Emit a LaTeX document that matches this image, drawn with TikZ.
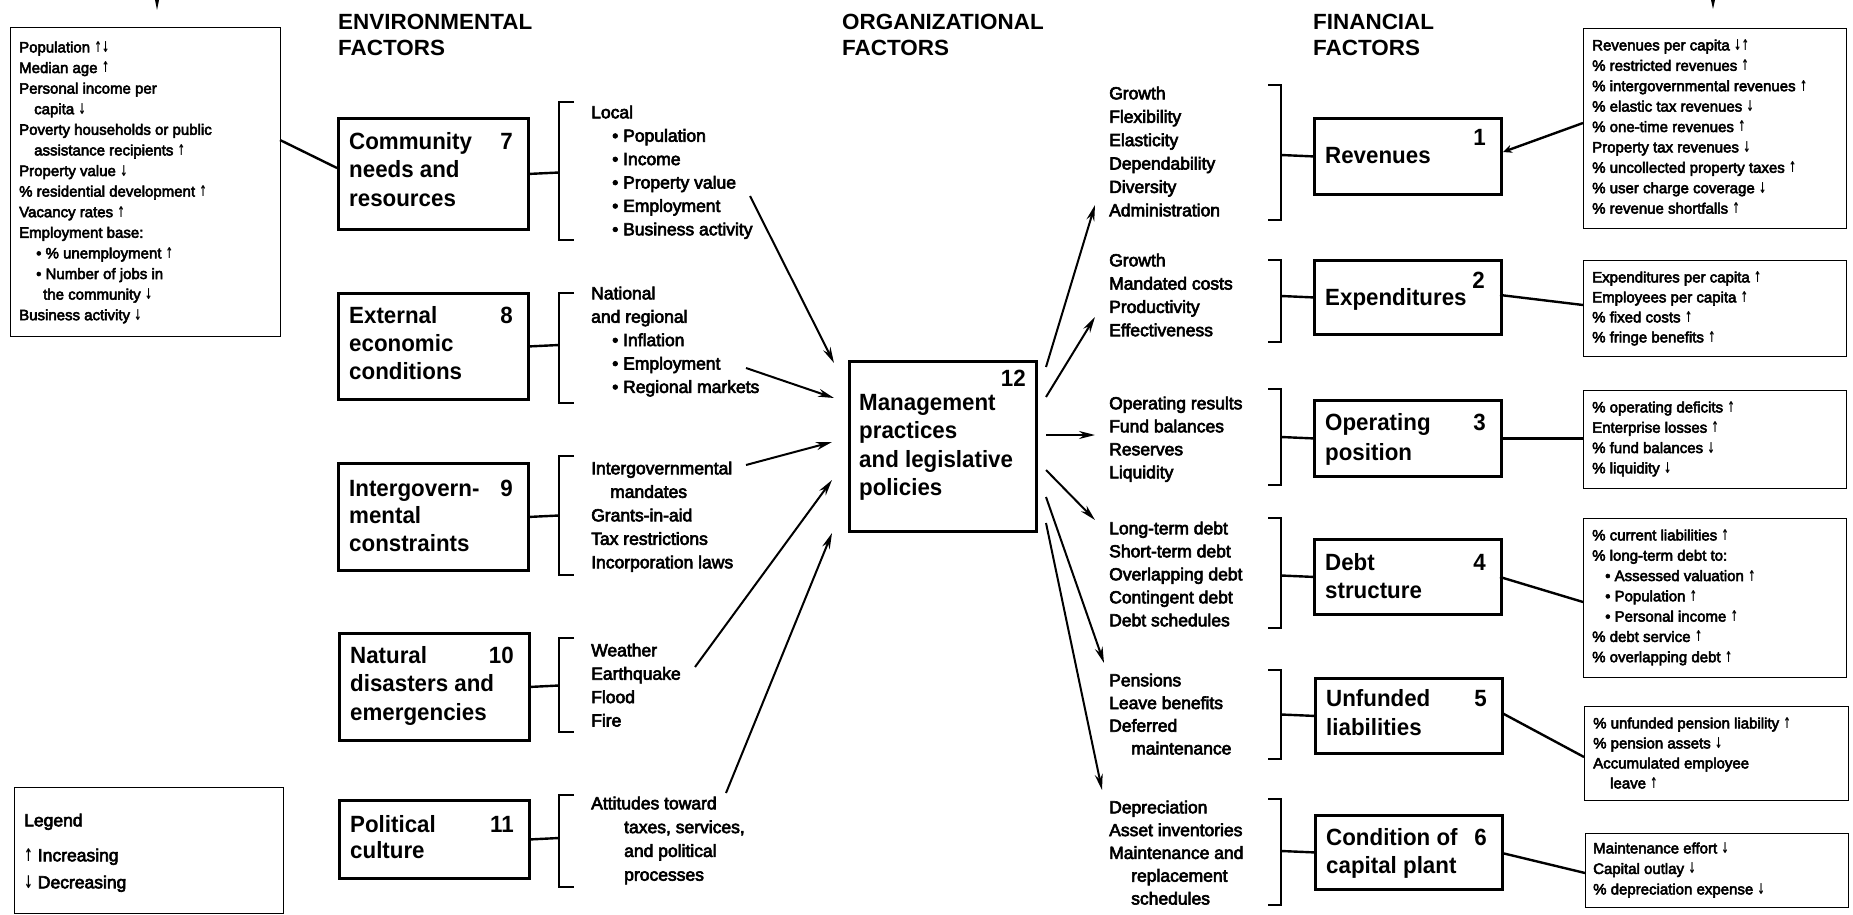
\documentclass[tikz,border=0pt]{standalone}
\usepackage{fontspec}
\setmainfont{Liberation Sans}
\newfontfamily\headfont{Liberation Sans}[FakeStretch=1.02]
\newfontfamily\titlefont{Liberation Sans}[FakeStretch=0.95]
\newfontfamily\listfont{Liberation Sans}[BoldFont={Liberation Sans}, BoldFeatures={FakeBold=3.5}]
\newfontfamily\arrfont{DejaVu Sans}[FakeStretch=0.6]
\usetikzlibrary{arrows.meta}

% trend arrows used in the indicator lists
\newcommand\up{{\arrfont ↑}}
\newcommand\dn{{\arrfont ↓}}
% horizontal indent inside a list line
\newcommand\indt[1]{\hspace*{#1pt}}
% one text node per line: name prefix, style, x, first baseline, line step, lines
\newcommand\rows[6]{%
  \foreach \txt [count=\k from 0] in {#6}{%
    \node[#2, anchor=base west] (#1-\k) at (#3, #4+\k*#5) {\txt};
  }}

\tikzset{
  heavybox/.style={draw, line width=2.8pt, inner sep=0pt, anchor=north west},
  indbox/.style={draw, line width=1.3pt, inner sep=0pt, anchor=north west},
  brk/.style={line width=2pt},
  link/.style={line width=2.4pt},
  flow/.style={line width=2pt, -{Stealth[length=16pt,width=8pt]}},
  ttl/.style={font=\titlefont\bfseries\fontsize{23.5}{28}\selectfont, inner sep=0pt},
  head/.style={font=\headfont\bfseries\fontsize{22}{26}\selectfont, inner sep=0pt},
  mid/.style={font=\listfont\bfseries\fontsize{17.5}{21}\selectfont, inner sep=0pt},
  ind/.style={font=\listfont\bfseries\fontsize{15}{18}\selectfont, inner sep=0pt},
  leg/.style={font=\listfont\bfseries\fontsize{17.5}{21}\selectfont, inner sep=0pt},
}

\begin{document}
\begin{tikzpicture}[x=1pt,y=-1pt]
\useasboundingbox (0,0) rectangle (1853,915);

% ---------- column headings ----------
\rows{hEnv}{head}{338}{29.5}{26}{{ENVIRONMENTAL},{FACTORS}}
\rows{hOrg}{head}{842}{29.5}{26}{{ORGANIZATIONAL},{FACTORS}}
\rows{hFin}{head}{1313}{29.5}{26}{{FINANCIAL},{FACTORS}}

% stubs of connectors running in from above
\fill (155,0) -- (159,0) -- (157,10) -- cycle;
\fill (1711,0) -- (1715,0) -- (1713,9) -- cycle;

% ---------- environmental indicators ----------
\node[indbox, minimum width=270pt, minimum height=309pt] (envInd) at (10,27) {};
\rows{envIndT}{ind}{19}{52.4}{20.6}{{Population \up\dn},{Median age \up},{Personal income per},{\indt{15}capita \dn},{Poverty households or public},{\indt{15}assistance recipients \up},{Property value \dn},{\% residential development \up},{Vacancy rates \up},{Employment base:},{\indt{17}• \% unemployment \up},{\indt{17}• Number of jobs in},{\indt{24}the community \dn},{Business activity \dn}}

% ---------- legend ----------
\node[indbox, minimum width=269pt, minimum height=126pt] (legend) at (14,787) {};
\node[leg, anchor=base west] (legT) at (24,826.3) {Legend};
\node[leg, anchor=base west] (legUp) at (24,861.3) {\up\ Increasing};
\node[leg, anchor=base west] (legDn) at (24,888.3) {\dn\ Decreasing};

% ---------- environmental factor boxes ----------
\node[heavybox, minimum width=190pt, minimum height=111pt] (b7) at (337,117) {};
\rows{b7T}{ttl}{349}{149.4}{28.5}{{Community},{needs and},{resources}}
\node[ttl, anchor=base east] (n7) at (513,149.4) {7};

\node[heavybox, minimum width=190pt, minimum height=106pt] (b8) at (337,292) {};
\rows{b8T}{ttl}{349}{323.4}{28}{{External},{economic},{conditions}}
\node[ttl, anchor=base east] (n8) at (513,323.4) {8};

\node[heavybox, minimum width=190pt, minimum height=107pt] (b9) at (337,462) {};
\rows{b9T}{ttl}{349}{496.4}{27.5}{{Intergovern-},{mental},{constraints}}
\node[ttl, anchor=base east] (n9) at (513,496.4) {9};

\node[heavybox, minimum width=190pt, minimum height=107pt] (b10) at (338,632) {};
\rows{b10T}{ttl}{350}{663.4}{28.5}{{Natural},{disasters and},{emergencies}}
\node[ttl, anchor=base east] (n10) at (514,663.4) {10};

\node[heavybox, minimum width=190pt, minimum height=78pt] (b11) at (338,799) {};
\rows{b11T}{ttl}{350}{832.4}{26}{{Political},{culture}}
\node[ttl, anchor=base east] (n11) at (514,832.4) {11};

\draw[link] (280,140) coordinate (envIndOut) -- (337,168) coordinate (b7In);

% brackets of the environmental factors
\foreach \t/\b in {102/240, 293/403, 456/575, 638/732, 795/887}
  \draw[brk] (574,\t) -- (559,\t) -- (559,\b) -- (574,\b);
\coordinate (k7) at (559,172.5);
\coordinate (k8) at (559,345);
\coordinate (k9) at (559,515.5);
\coordinate (k10) at (559,685.5);
\coordinate (k11) at (559,838);
\foreach \n in {7,8,9,10,11} \draw[link] (b\n.east) -- (k\n);

% ---------- environmental factor details ----------
\rows{dLocal}{mid}{591}{118.3}{23.4}{{Local},{\indt{21}• Population},{\indt{21}• Income},{\indt{21}• Property value},{\indt{21}• Employment},{\indt{21}• Business activity}}
\rows{dNat}{mid}{591}{299.3}{23.4}{{National},{and regional},{\indt{21}• Inflation},{\indt{21}• Employment},{\indt{21}• Regional markets}}
\rows{dGov}{mid}{591}{474.3}{23.5}{{Intergovernmental},{\indt{19}mandates},{Grants-in-aid},{Tax restrictions},{Incorporation laws}}
\rows{dDis}{mid}{591}{656.3}{23.4}{{Weather},{Earthquake},{Flood},{Fire}}
\rows{dPol}{mid}{591}{809.3}{23.8}{{Attitudes toward},{\indt{33}taxes, services,},{\indt{33}and political},{\indt{33}processes}}

% ---------- organizational factor ----------
\node[heavybox, minimum width=187pt, minimum height=170pt] (m12) at (848,360) {};
\rows{m12T}{ttl}{859}{410.4}{28.3}{{Management},{practices},{and legislative},{policies}}
\node[ttl, anchor=base east] (n12) at (1026,386.4) {12};

% arrows into the organizational factor
\coordinate (in1) at (750,196);  \coordinate (in1e) at (834,363);
\coordinate (in2) at (746,368);  \coordinate (in2e) at (834,398);
\coordinate (in3) at (746,465);  \coordinate (in3e) at (832,442);
\coordinate (in4) at (695,667);  \coordinate (in4e) at (832,480);
\coordinate (in5) at (726,793);  \coordinate (in5e) at (832,533);
\foreach \i in {1,...,5} \draw[flow] (in\i) -- (in\i e);

% arrows out of the organizational factor
\coordinate (out1) at (1046,367); \coordinate (out1e) at (1095,205);
\coordinate (out2) at (1046,397); \coordinate (out2e) at (1095,317);
\coordinate (out3) at (1046,435); \coordinate (out3e) at (1095,435);
\coordinate (out4) at (1046,470); \coordinate (out4e) at (1095,520);
\coordinate (out5) at (1046,497); \coordinate (out5e) at (1104,663);
\coordinate (out6) at (1046,523); \coordinate (out6e) at (1102,790);
\foreach \i in {1,...,6} \draw[flow] (out\i) -- (out\i e);

% ---------- financial factor details ----------
\rows{fRev}{mid}{1109}{99.3}{23.4}{{Growth},{Flexibility},{Elasticity},{Dependability},{Diversity},{Administration}}
\rows{fExp}{mid}{1109}{266.3}{23.3}{{Growth},{Mandated costs},{Productivity},{Effectiveness}}
\rows{fOp}{mid}{1109}{409.3}{23}{{Operating results},{Fund balances},{Reserves},{Liquidity}}
\rows{fDebt}{mid}{1109}{534.3}{23}{{Long-term debt},{Short-term debt},{Overlapping debt},{Contingent debt},{Debt schedules}}
\rows{fUnf}{mid}{1109}{686.3}{22.7}{{Pensions},{Leave benefits},{Deferred},{\indt{22}maintenance}}
\rows{fCap}{mid}{1109}{813.3}{22.8}{{Depreciation},{Asset inventories},{Maintenance and},{\indt{22}replacement},{\indt{22}schedules}}

% brackets of the financial factors
\foreach \t/\b in {85/220, 260/342, 389/485, 518/628, 670/759, 799/905}
  \draw[brk] (1268,\t) -- (1281,\t) -- (1281,\b) -- (1268,\b);

% ---------- financial factor boxes ----------
\node[heavybox, minimum width=187pt, minimum height=76pt] (f1) at (1313,117) {};
\node[ttl, anchor=base west] (f1T) at (1325,163.4) {Revenues};
\node[ttl, anchor=base east] (n1) at (1486,146) {1};

\node[heavybox, minimum width=187pt, minimum height=74pt] (f2) at (1313,259) {};
\node[ttl, anchor=base west] (f2T) at (1325,305.4) {Expenditures};
\node[ttl, anchor=base east] (n2) at (1485,288) {2};

\node[heavybox, minimum width=187pt, minimum height=76pt] (f3) at (1313,399) {};
\rows{f3T}{ttl}{1325}{430.4}{30}{{Operating},{position}}
\node[ttl, anchor=base east] (n3) at (1486,430.4) {3};

\node[heavybox, minimum width=187pt, minimum height=75pt] (f4) at (1313,538) {};
\rows{f4T}{ttl}{1325}{570.4}{28}{{Debt},{structure}}
\node[ttl, anchor=base east] (n4) at (1486,570.4) {4};

\node[heavybox, minimum width=187pt, minimum height=75pt] (f5) at (1314,677) {};
\rows{f5T}{ttl}{1326}{706.4}{29}{{Unfunded},{liabilities}}
\node[ttl, anchor=base east] (n5) at (1487,706.4) {5};

\node[heavybox, minimum width=187pt, minimum height=74pt] (f6) at (1314,814) {};
\rows{f6T}{ttl}{1326}{845.4}{28}{{Condition of},{capital plant}}
\node[ttl, anchor=base east] (n6) at (1487,845.4) {6};

\coordinate (g1) at (1281,155);
\coordinate (g2) at (1281,296);
\coordinate (g3) at (1281,437);
\coordinate (g4) at (1281,575.5);
\coordinate (g5) at (1281,714.5);
\coordinate (g6) at (1281,851);
\foreach \n in {1,...,6} \draw[link] (g\n) -- (f\n.west);

% ---------- financial indicators ----------
\node[indbox, minimum width=263pt, minimum height=200pt] (i1) at (1583,28) {};
\rows{i1T}{ind}{1592}{50.4}{20.4}{{Revenues per capita \dn\up},{\% restricted revenues \up},{\% intergovernmental revenues \up},{\% elastic tax revenues \dn},{\% one-time revenues \up},{Property tax revenues \dn},{\% uncollected property taxes \up},{\% user charge coverage \dn},{\% revenue shortfalls \up}}

\node[indbox, minimum width=263pt, minimum height=96pt] (i2) at (1583,260) {};
\rows{i2T}{ind}{1592}{282.4}{20}{{Expenditures per capita \up},{Employees per capita \up},{\% fixed costs \up},{\% fringe benefits \up}}

\node[indbox, minimum width=263pt, minimum height=98pt] (i3) at (1583,390) {};
\rows{i3T}{ind}{1592}{412.4}{20.3}{{\% operating deficits \up},{Enterprise losses \up},{\% fund balances \dn},{\% liquidity \dn}}

\node[indbox, minimum width=263pt, minimum height=159pt] (i4) at (1583,518) {};
\rows{i4T}{ind}{1592}{540.4}{20.3}{{\% current liabilities \up},{\% long-term debt to:},{\indt{13}• Assessed valuation \up},{\indt{13}• Population \up},{\indt{13}• Personal income \up},{\% debt service \up},{\% overlapping debt \up}}

\node[indbox, minimum width=264pt, minimum height=94pt] (i5) at (1584,706) {};
\rows{i5T}{ind}{1593}{728.4}{20}{{\% unfunded pension liability \up},{\% pension assets \dn},{Accumulated employee},{\indt{17}leave \up}}

\node[indbox, minimum width=263pt, minimum height=74pt] (i6) at (1585,833) {};
\rows{i6T}{ind}{1593}{853.4}{20.5}{{Maintenance effort \dn},{Capital outlay \dn},{\% depreciation expense \dn}}

% connectors between boxes and indicator lists
\draw[link, -{Stealth[length=9pt,width=8pt]}] (1583,123) coordinate (i1Out) -- (1503,152) coordinate (f1In);
\draw[link] (1500,295) coordinate (f2Out) -- (1583,305) coordinate (i2In);
\draw[link] (f3.east) -- (i3.west |- f3.east);
\draw[link] (1500,577) coordinate (f4Out) -- (1583,602) coordinate (i4In);
\draw[link] (1502,713) coordinate (f5Out) -- (1584,757) coordinate (i5In);
\draw[link] (1502,853) coordinate (f6Out) -- (1585,873) coordinate (i6In);

\end{tikzpicture}
\end{document}
